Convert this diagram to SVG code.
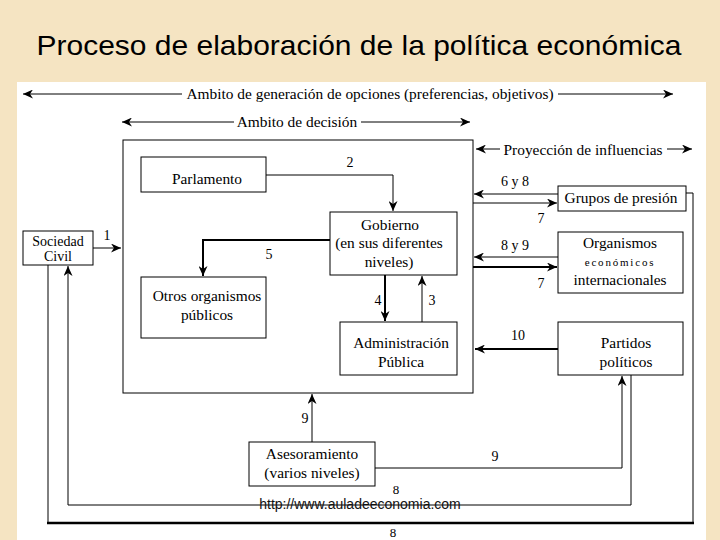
<svg xmlns="http://www.w3.org/2000/svg" width="720" height="540" viewBox="0 0 720 540">
<defs>
<marker id="ah" markerUnits="userSpaceOnUse" markerWidth="11" markerHeight="9" refX="10" refY="4.5" orient="auto-start-reverse">
<path d="M0,0 L10,4.5 L0,9 L3,4.5 z" fill="#000"/>
</marker>
<style>
.t{font-family:"Liberation Serif","Times New Roman",serif;font-size:15.4px;fill:#000;text-anchor:middle}
.n{font-size:14px}
.box{fill:#fff;stroke:#000;stroke-width:1}
.c{fill:none;stroke:#000;stroke-width:1}
.k{fill:none;stroke:#000;stroke-width:2}
.a{marker-end:url(#ah)}
</style>
</defs>
<rect x="0" y="0" width="720" height="540" fill="#F5E4C2"/>
<rect x="17" y="82" width="689" height="458" fill="#fff"/>
<text x="359" y="55" font-family="Liberation Sans, Arial, sans-serif" font-size="28" text-anchor="middle" fill="#000" textLength="645" lengthAdjust="spacingAndGlyphs">Proceso de elaboración de la política económica</text>

<g id="connectors">
<line class="c" x1="23" y1="94" x2="182" y2="94" style="marker-start:url(#ah)"/>
<line class="c" x1="558" y1="94" x2="673" y2="94" style="marker-end:url(#ah)"/>
<line class="c" x1="122" y1="122" x2="234" y2="122" style="marker-start:url(#ah)"/>
<line class="c" x1="361" y1="122" x2="470" y2="122" style="marker-end:url(#ah)"/>
<line class="c" x1="476" y1="149" x2="500" y2="149" style="marker-start:url(#ah)"/>
<line class="c" x1="667" y1="149" x2="692" y2="149" style="marker-end:url(#ah)"/>
<path class="c a" d="M266,175 H393 V211"/>
<path class="k a" d="M330,240 H203 V276"/>
<path class="k a" d="M385,275 V321"/>
<path class="c a" d="M422,322 V276"/>
<path class="c a" d="M93,248 H121"/>
<path class="c a" d="M558,194 H474"/>
<path class="c a" d="M473,203 H557"/>
<path class="c a" d="M558,257 H474"/>
<path class="k a" d="M473,267 H557"/>
<path class="k a" d="M558,349 H475"/>
<path class="c a" d="M312,442 V394"/>
<path class="c a" d="M375,468 H622 V376"/>
<path class="c a" d="M631,375 V505 H68 V266"/>
<path class="c" d="M686,193 H693 V523"/>
<path class="c" d="M48,265 V523"/>
<line x1="47" y1="523" x2="694" y2="523" stroke="#000" stroke-width="2.5"/>
</g>
<text class="t" x="370" y="99">Ambito de generación de opciones (preferencias, objetivos)</text>
<text class="t" x="297" y="127">Ambito de decisión</text>
<text class="t" x="583" y="155">Proyección de influencias</text>

<g id="ambito-decision"><rect x="123" y="140" width="350" height="253" fill="none" stroke="#000" stroke-width="1"/></g>

<g id="parlamento"><rect class="box" x="141" y="157" width="125" height="35"/><text class="t" x="207" y="184">Parlamento</text></g>
<g id="gobierno"><rect class="box" x="330" y="212" width="127" height="63"/>
<text class="t" x="390" y="230">Gobierno</text><text class="t" x="389" y="248">(en sus diferentes</text><text class="t" x="389" y="267">niveles)</text></g>
<g id="otros"><rect class="box" x="141" y="277" width="125" height="61"/>
<text class="t" x="207" y="301">Otros organismos</text><text class="t" x="207" y="320">públicos</text></g>
<g id="administracion"><rect class="box" x="340" y="322" width="117" height="53"/>
<text class="t" x="401" y="348">Administración</text><text class="t" x="401" y="367">Pública</text></g>
<g id="sociedad"><rect class="box" x="23" y="231" width="70" height="34"/>
<text class="t n" x="58" y="246">Sociedad</text><text class="t n" x="58" y="261">Civil</text></g>
<g id="grupos"><rect class="box" x="558" y="186" width="128" height="25"/>
<text class="t" x="621" y="203">Grupos de presión</text></g>
<g id="organismos"><rect class="box" x="558" y="232" width="125" height="61"/>
<text class="t" x="620" y="248">Organismos</text><text class="t" x="620" y="266" style="font-size:11px;letter-spacing:1.8px">económicos</text><text class="t" x="620" y="285">internacionales</text></g>
<g id="partidos"><rect class="box" x="558" y="322" width="125" height="53"/>
<text class="t" x="626" y="348">Partidos</text><text class="t" x="626" y="367">políticos</text></g>
<g id="asesoramiento"><rect class="box" x="249" y="442" width="126" height="44"/>
<text class="t" x="312" y="459">Asesoramiento</text><text class="t" x="312" y="478">(varios niveles)</text></g>

<g id="labels">
<text class="t n" x="350" y="167">2</text>
<text class="t n" x="269" y="259">5</text>
<text class="t n" x="378" y="305">4</text>
<text class="t n" x="432" y="305">3</text>
<text class="t n" x="107" y="240">1</text>
<text class="t n" x="515" y="186">6 y 8</text>
<text class="t n" x="541" y="223">7</text>
<text class="t n" x="515" y="250">8 y 9</text>
<text class="t n" x="541" y="288">7</text>
<text class="t n" x="518" y="340">10</text>
<text class="t n" x="305" y="423">9</text>
<text class="t n" x="495" y="461">9</text>
<text class="t n" x="396" y="494" style="font-size:13px">8</text>
<text class="t n" x="393" y="537" style="font-size:13px">8</text>
</g>
<text x="360" y="509" font-family="Liberation Sans, Arial, sans-serif" font-size="14" text-anchor="middle" fill="#111">http://www.auladeeconomia.com</text>
</svg>
